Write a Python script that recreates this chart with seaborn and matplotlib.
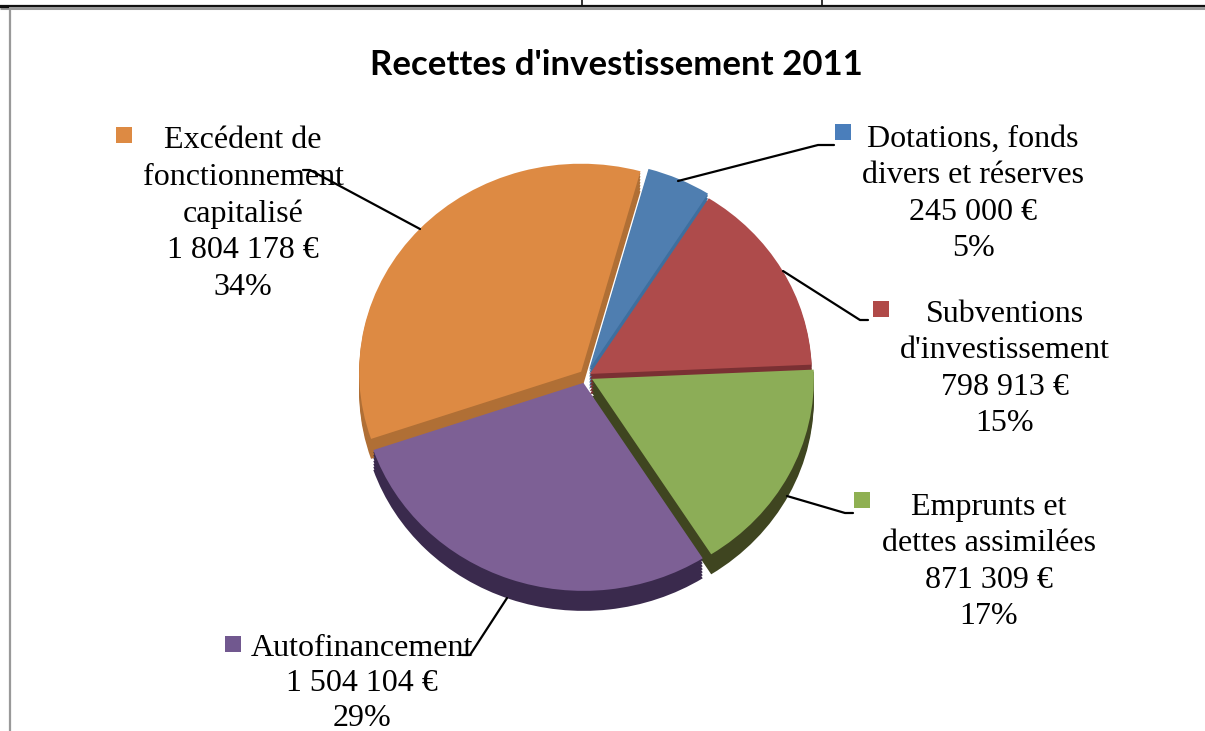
import matplotlib
matplotlib.use("Agg")
import matplotlib.pyplot as plt
from matplotlib.patches import Rectangle
import seaborn as sns

# ---- data ----
categories = ["Dotations, fonds\ndivers et réserves", "Subventions\nd'investissement",
              "Emprunts et\ndettes assimilées", "Autofinancement", "Excédent de\nfonctionnement\ncapitalisé"]
amounts = [245000, 798913, 871309, 1504104, 1804178]
amount_labels = ["245 000 €", "798 913 €", "871 309 €", "1 504 104 €", "1 804 178 €"]
percent_labels = ["5%", "15%", "17%", "29%", "34%"]
title = "Recettes d'investissement 2011"

# ---- style ----
top_colors = ["#4F7EB0", "#AE4B4B", "#8CAD57", "#7D6095", "#DD8A43"]
side_colors = ["#3E6F9F", "#7A3033", "#3F4520", "#3A2A4D", "#B06F35"]
key_colors = ["#4A7EBB", "#B04A48", "#8FB052", "#71588F", "#DD8A43"]
explode = [0.035, 0.02, 0.03, 0.035, 0.03]
W, H = 1205, 731
CX, CY, RX, RY = 586, 376, 222, 208
DEPTH = 20
START = 74.5

sns.set_theme(style="white")
plt.rcParams["font.family"] = ["Liberation Serif", "DejaVu Serif"]

fig = plt.figure(figsize=(W / 100, H / 100), dpi=100, facecolor="white")

# pie axes: an ellipse, through a non-equal aspect
ax = fig.add_axes([(CX - 1.25 * RX) / W, 1 - (CY + 1.25 * RY) / H, 2.5 * RX / W, 2.5 * RY / H])
for d in range(DEPTH, 0, -3):
    ax.pie(amounts, startangle=START, counterclock=False, explode=explode,
           colors=sns.color_palette(side_colors), center=(0, -d / RY),
           wedgeprops={"linewidth": 0})
ax.pie(amounts, startangle=START, counterclock=False, explode=explode,
       colors=sns.color_palette(top_colors), wedgeprops={"linewidth": 0})
ax.set_aspect("auto")
ax.set_xlim(-1.25, 1.25)
ax.set_ylim(-1.25, 1.25)
ax.axis("off")

# overlay in picture pixels for frame, labels and leaders
ov = fig.add_axes([0, 0, 1, 1], zorder=5)
ov.set_xlim(0, W)
ov.set_ylim(H, 0)
ov.axis("off")
ov.patch.set_alpha(0)

# page frame
ov.plot([0, W], [5.5, 5.5], color="#111111", lw=1.6, solid_capstyle="butt")
ov.plot([0, W], [8, 8], color="#999999", lw=2.2, solid_capstyle="butt")
ov.plot([0, 9], [6.8, 6.8], color="#111111", lw=1.6, solid_capstyle="butt")
ov.plot([9.5, 9.5], [8, H], color="#999999", lw=1.6, solid_capstyle="butt")
for x in (582, 822):
    ov.plot([x, x], [0, 5], color="#111111", lw=1.2, solid_capstyle="butt")

ov.text(616, 65, title, family=["Lato", "DejaVu Sans"], fontweight="bold", fontsize=25,
        ha="center", va="center", color="black")

# label layout: text centre x, first-line centre y, key x, key y
label_pos = [(973, 136, 843, 132), (1005, 311, 881, 309), (989, 504, 862, 500),
             (362, 645, 233, 644), (243, 137, 124, 135)]
line_steps = [36.4, 36.4, 36.4, 35.0, 36.7]
leaders = [[(678, 181), (818, 145), (834, 145)],
           [(783, 271), (860, 320), (868, 320)],
           [(787, 496), (845, 513), (853, 513)],
           [(507, 598), (470, 655), (462, 655)],
           [(420, 229), (310, 170), (303, 170)]]
for cat, amt, pct, (tx, ty, kx, ky), col, step in zip(categories, amount_labels, percent_labels,
                                                       label_pos, key_colors, line_steps):
    lines = cat.split("\n") + [amt, pct]
    for i, s in enumerate(lines):
        ov.text(tx, ty + i * step, s, fontsize=23, ha="center", va="center_baseline", color="black")
    ov.add_patch(Rectangle((kx - 8, ky - 8), 16, 16, facecolor=col, edgecolor="none"))
for pts in leaders:
    ov.plot([p[0] for p in pts], [p[1] for p in pts], color="black", lw=1.6)

fig.savefig("out.png", dpi=100)
